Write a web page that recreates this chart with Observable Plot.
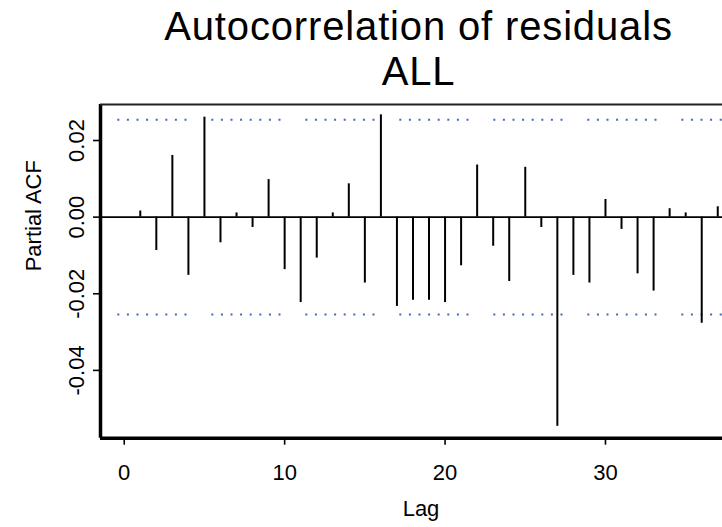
<!DOCTYPE html>
<html><head><meta charset="utf-8">
<script src="https://cdn.jsdelivr.net/npm/d3@7"></script>
<script src="https://cdn.jsdelivr.net/npm/@observablehq/plot@0.6"></script>
<style>
html,body{margin:0;padding:0;background:#fff;overflow:hidden;}
#wrap{position:relative;width:722px;height:527px;overflow:hidden;background:#fff;}
#title{position:absolute;left:0;top:0;width:837px;height:95px;text-align:center;font-family:"Liberation Sans",Arial,sans-serif;font-size:40px;letter-spacing:0.85px;line-height:45px;padding-top:3.8px;box-sizing:border-box;color:#000;white-space:nowrap;}
#chart{position:absolute;left:0;top:95px;width:760px;height:432px;}
#chart svg{max-width:none !important;}
</style></head><body>
<div id="wrap"><div id="title">Autocorrelation of residuals<br>ALL</div><div id="chart"></div></div>
<script>
const lags = [1,2,3,4,5,6,7,8,9,10,11,12,13,14,15,16,17,18,19,20,21,22,23,24,25,26,27,28,29,30,31,32,33,34,35,36,37];
const pacf = [0.0016,-0.0087,0.0161,-0.0152,0.0261,-0.0067,0.0011,-0.0027,0.0098,-0.0137,
  -0.0223,-0.0107,0.0011,0.0087,-0.0172,0.0267,-0.0233,-0.0217,-0.0217,-0.0223,
  -0.0127,0.0136,-0.0076,-0.0168,0.0130,-0.0027,-0.0546,-0.0152,-0.0172,0.0046,
  -0.0032,-0.0148,-0.0193,0.0022,0.0011,-0.0277,0.0027];
const ciBound = 0.0254;
const xTicks = [0, 10, 20, 30];
const yTicks = [0.02, 0, -0.02, -0.04];
const xDomain = [-1.48, 38.48];
const yDomain = [-0.0577, 0.0294];

const data = lags.map((lag, i) => ({lag, value: pacf[i]}));
const dashUnit = [];
for (let i = 0; i < 7; i++) dashUnit.push(2, 7.6);
dashUnit.push(2, 24.8);
const font = '"Liberation Sans", Arial, sans-serif';

const chart = Plot.plot({
  width: 760, height: 432,
  marginLeft: 100, marginRight: 19, marginTop: 9, marginBottom: 89.3,
  style: {fontFamily: font, fontSize: "22px", color: "#000", background: "#fff", overflow: "visible", maxWidth: "none"},
  x: {domain: xDomain},
  y: {domain: yDomain},
  marks: [
    Plot.ruleY([ciBound, -ciBound], {stroke: "#3f6db3", strokeWidth: 2, strokeDasharray: dashUnit.join(","), strokeDashoffset: 76.7}),
    Plot.ruleY([0], {stroke: "#000", strokeWidth: 1.8}),
    Plot.ruleX(data, {x: "lag", y1: 0, y2: "value", stroke: "#000", strokeWidth: 2}),
    Plot.ruleX([xDomain[0]], {stroke: "#000", strokeWidth: 3.5}),
    Plot.ruleY([yDomain[0]], {stroke: "#000", strokeWidth: 3.5}),
    Plot.ruleY([yDomain[1]], {stroke: "#222", strokeWidth: 2}),
    Plot.axisX({ticks: xTicks, tickSize: 7, tickPadding: 19, label: null, strokeWidth: 1.6, tickFormat: d => String(d)}),
    Plot.axisY({ticks: yTicks, tickSize: 7, tickPadding: 10, tickRotate: -90, textAnchor: "middle", lineAnchor: "bottom", strokeWidth: 1.6, label: null, tickFormat: d => d.toFixed(2)}),
    Plot.text(["Partial ACF"], {frameAnchor: "left", rotate: -90, dx: -60, lineAnchor: "bottom", text: d => d}),
    Plot.text(["Lag"], {frameAnchor: "bottom", dy: 62.3, lineAnchor: "top", text: d => d})
  ]
});
document.getElementById("chart").appendChild(chart);
</script>
</body></html>
